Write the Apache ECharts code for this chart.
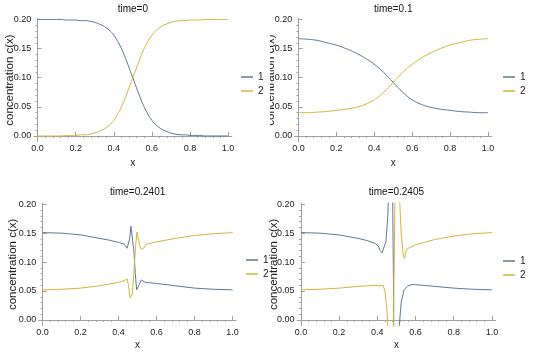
<!DOCTYPE html>
<html>
<head>
<meta charset="utf-8">
<script src="https://cdn.jsdelivr.net/npm/echarts@6/dist/echarts.min.js"></script>
<style>html,body{margin:0;padding:0;background:#fff;}#c{width:540px;height:358px;}</style>
</head>
<body>
<div id="c"></div>
<script>
// ---------- data ----------
const titles = ['time=0', 'time=0.1', 'time=0.2401', 'time=0.2405'];
const seriesNames = ['1', '2'];
const xTickLabels = [0, 0.2, 0.4, 0.6, 0.8, 1.0];
const yTickLabels = [0, 0.05, 0.10, 0.15, 0.20];

// panel 1: time=0
const p1X  = [0,0.025,0.05,0.075,0.1,0.125,0.15,0.175,0.2,0.225,0.25,0.275,0.3,0.325,0.35,0.375,0.4,0.425,0.45,0.475,0.5,0.525,0.55,0.575,0.6,0.625,0.65,0.675,0.7,0.725,0.75,0.775,0.8,0.825,0.85,0.875,0.9,0.925,0.95,0.975,1.0];
const p1C1 = [0.200,0.200,0.200,0.200,0.200,0.200,0.199,0.199,0.199,0.198,0.198,0.197,0.195,0.192,0.188,0.182,0.173,0.160,0.143,0.122,0.100,0.078,0.057,0.040,0.027,0.018,0.012,0.008,0.005,0.003,0.002,0.002,0.001,0.001,0.001,0.000,0.000,0.000,0.000,0.000,0.000];
const p1C2 = [0.000,0.000,0.000,0.000,0.000,0.000,0.001,0.001,0.001,0.002,0.002,0.003,0.005,0.008,0.012,0.018,0.027,0.040,0.057,0.078,0.100,0.122,0.143,0.160,0.173,0.182,0.188,0.192,0.195,0.197,0.198,0.198,0.199,0.199,0.199,0.200,0.200,0.200,0.200,0.200,0.200];

// panel 2: time=0.1
const p2X  = [0,0.05,0.1,0.15,0.2,0.25,0.3,0.35,0.4,0.45,0.5,0.55,0.6,0.65,0.7,0.75,0.8,0.85,0.9,0.95,1.0];
const p2C1 = [0.167,0.166,0.164,0.160,0.156,0.150,0.143,0.134,0.123,0.109,0.092,0.075,0.062,0.054,0.049,0.046,0.044,0.042,0.041,0.040,0.040];
const p2C2 = [0.040,0.040,0.041,0.042,0.044,0.046,0.049,0.054,0.062,0.075,0.092,0.109,0.123,0.134,0.143,0.150,0.156,0.160,0.164,0.166,0.167];

// panel 3: time=0.2401
const p3X1 = [0,0.1,0.2,0.3,0.35,0.4,0.43,0.445,0.452,0.458,0.465,0.472,0.48,0.488,0.495,0.5,0.51,0.52,0.53,0.54,0.55,0.6,0.7,0.8,0.9,1.0];
const p3C1 = [0.151,0.150,0.147,0.141,0.138,0.134,0.131,0.124,0.122,0.140,0.162,0.160,0.120,0.080,0.052,0.051,0.062,0.069,0.067,0.065,0.066,0.063,0.059,0.055,0.053,0.052];
const p3X2 = [0,0.1,0.2,0.3,0.35,0.4,0.43,0.445,0.452,0.46,0.465,0.472,0.48,0.49,0.497,0.5,0.51,0.52,0.528,0.535,0.545,0.55,0.56,0.6,0.7,0.8,0.9,1.0];
const p3C2 = [0.052,0.053,0.055,0.059,0.062,0.065,0.068,0.071,0.060,0.038,0.036,0.045,0.080,0.130,0.152,0.150,0.130,0.122,0.121,0.125,0.131,0.133,0.132,0.135,0.141,0.146,0.149,0.151];

// panel 4: time=0.2405
const p4X1 = [0,0.1,0.2,0.3,0.35,0.39,0.4,0.405,0.415,0.425,0.435,0.445,0.455,0.462,0.47,0.478,0.485,0.49,0.5,0.508,0.515,0.525,0.54,0.56,0.58,0.6,0.7,0.8,0.9,1.0];
const p4C1 = [0.151,0.150,0.147,0.141,0.137,0.132,0.131,0.128,0.120,0.116,0.118,0.135,0.180,0.250,0.400,0.300,0.050,-0.200,-0.300,-0.100,-0.010,0.030,0.052,0.059,0.061,0.061,0.058,0.055,0.053,0.052];
const p4X2 = [0,0.1,0.2,0.3,0.35,0.39,0.4,0.41,0.42,0.43,0.44,0.45,0.457,0.465,0.475,0.485,0.492,0.5,0.51,0.518,0.525,0.535,0.542,0.548,0.552,0.56,0.6,0.7,0.8,0.9,1.0];
const p4C2 = [0.052,0.053,0.055,0.058,0.059,0.060,0.058,0.059,0.062,0.060,0.050,0.020,-0.020,-0.200,-0.100,0.000,0.200,0.400,0.300,0.200,0.150,0.115,0.106,0.115,0.122,0.124,0.130,0.139,0.145,0.149,0.151];

// ---------- layout ----------
const grids = [
  {left: 33.8, top: 18.3, width: 198, height: 123.5, outerBoundsMode: 'none'},
  {left: 294.7, top: 18.3, width: 197, height: 123.5, outerBoundsMode: 'none'},
  {left: 38.8, top: 203.1, width: 197.6, height: 122.6, outerBoundsMode: 'none'},
  {left: 297.1, top: 203.1, width: 198.6, height: 122.6, outerBoundsMode: 'none'}
];
const yNameGaps = [17.8, 17.7, 19.8, 17.6];
const xNameGaps = [16, 16, 15, 15];
const titleTops = [4.1, 4.1, 187.3, 187.3];
const legendPos = [
  {left: 241, top: 71},
  {left: 503, top: 71},
  {left: 246, top: 254},
  {left: 503, top: 255}
];
const colors = ['#5f7897', '#dbb03e'];
const FONT = 'Liberation Sans, Arial, sans-serif';
const axisColor = '#a0a0a0';

const xMinor = [], yMinor = [];
for (let i = 0; i <= 25; i++) { const v = +(i * 0.04).toFixed(2); if (i % 5 !== 0) xMinor.push(v); }
for (let i = 0; i <= 20; i++) { const v = +(i * 0.01).toFixed(2); if (i % 5 !== 0) yMinor.push(v); }

const zip = (xs, ys) => xs.map((x, i) => [x, ys[i]]);
const panels = [
  [zip(p1X, p1C1), zip(p1X, p1C2)],
  [zip(p2X, p2C1), zip(p2X, p2C2)],
  [zip(p3X1, p3C1), zip(p3X2, p3C2)],
  [zip(p4X1, p4C1), zip(p4X2, p4C2)]
];

const xAxes = [], yAxes = [], series = [], legends = [], titleOpts = [];
grids.forEach((g, i) => {
  xAxes.push({
    type: 'value', gridIndex: i, min: -0.02, max: 1.02,
    name: 'x', nameLocation: 'middle', nameGap: xNameGaps[i], nameMoveOverlap: false,
    nameTextStyle: {fontFamily: FONT, fontSize: 10, color: '#222'},
    axisLine: {show: true, lineStyle: {color: axisColor, width: 1}},
    axisTick: {show: true, inside: true, length: 4, customValues: xTickLabels, lineStyle: {color: axisColor}},
    axisLabel: {customValues: xTickLabels, formatter: v => v.toFixed(1), fontFamily: FONT, fontSize: 9, color: '#222', margin: 2.5},
    splitLine: {show: false}
  });
  yAxes.push({
    type: 'value', gridIndex: i, min: -0.01, max: 0.202,
    name: 'concentration c(x)', nameLocation: 'middle', nameGap: yNameGaps[i], nameRotate: 90, nameMoveOverlap: false,
    nameTextStyle: {fontFamily: FONT, fontSize: 11.5, color: '#222'},
    axisLine: {show: true, lineStyle: {color: axisColor, width: 1}},
    axisTick: {show: true, inside: true, length: 4, customValues: yTickLabels, lineStyle: {color: axisColor}},
    axisLabel: {customValues: yTickLabels, formatter: v => v.toFixed(2), fontFamily: FONT, fontSize: 9, color: '#222', margin: 2.5},
    splitLine: {show: false}
  });
  series.push(...panels[i].map((d, k) => ({
    name: seriesNames[k], type: 'line', xAxisIndex: i, yAxisIndex: i,
    data: d, showSymbol: false, symbol: 'none', clip: true,
    smooth: i < 2 ? 0.4 : false,
    lineStyle: {width: 1, color: colors[k]}, itemStyle: {color: colors[k]},
    animation: false
  })));
  legends.push({
    orient: 'vertical', left: legendPos[i].left, top: legendPos[i].top, padding: 0,
    itemWidth: 12, itemHeight: 1.5, itemGap: 2, icon: 'rect',
    data: seriesNames,
    textStyle: {fontFamily: FONT, fontSize: 10, color: '#222', lineHeight: 12}
  });
  titleOpts.push({
    text: titles[i], left: g.left + g.width / 2, top: titleTops[i], textAlign: 'center', padding: 0,
    textStyle: {fontFamily: FONT, fontSize: 10, fontWeight: 'normal', color: '#111'}
  });
});
// minor ticks
grids.forEach((g, i) => {
  xAxes.push({
    type: 'value', gridIndex: i, min: -0.02, max: 1.02,
    axisLine: {show: false},
    axisTick: {show: true, inside: true, length: 2, customValues: xMinor, lineStyle: {color: axisColor}},
    axisLabel: {show: false}, splitLine: {show: false}
  });
  yAxes.push({
    type: 'value', gridIndex: i, min: -0.01, max: 0.202,
    axisLine: {show: false},
    axisTick: {show: true, inside: true, length: 2, customValues: yMinor, lineStyle: {color: axisColor}},
    axisLabel: {show: false}, splitLine: {show: false}
  });
});

const chart = echarts.init(document.getElementById('c'), null, {renderer: 'canvas'});
chart.setOption({
  backgroundColor: '#fff',
  animation: false,
  color: colors,
  title: titleOpts,
  legend: legends,
  grid: grids,
  xAxis: xAxes,
  yAxis: yAxes,
  series: series,
  graphic: [{type: 'rect', shape: {x: 264.5, y: 10, width: 5.5, height: 140}, style: {fill: '#fff'}, z: 100}]
});
</script>
</body>
</html>
